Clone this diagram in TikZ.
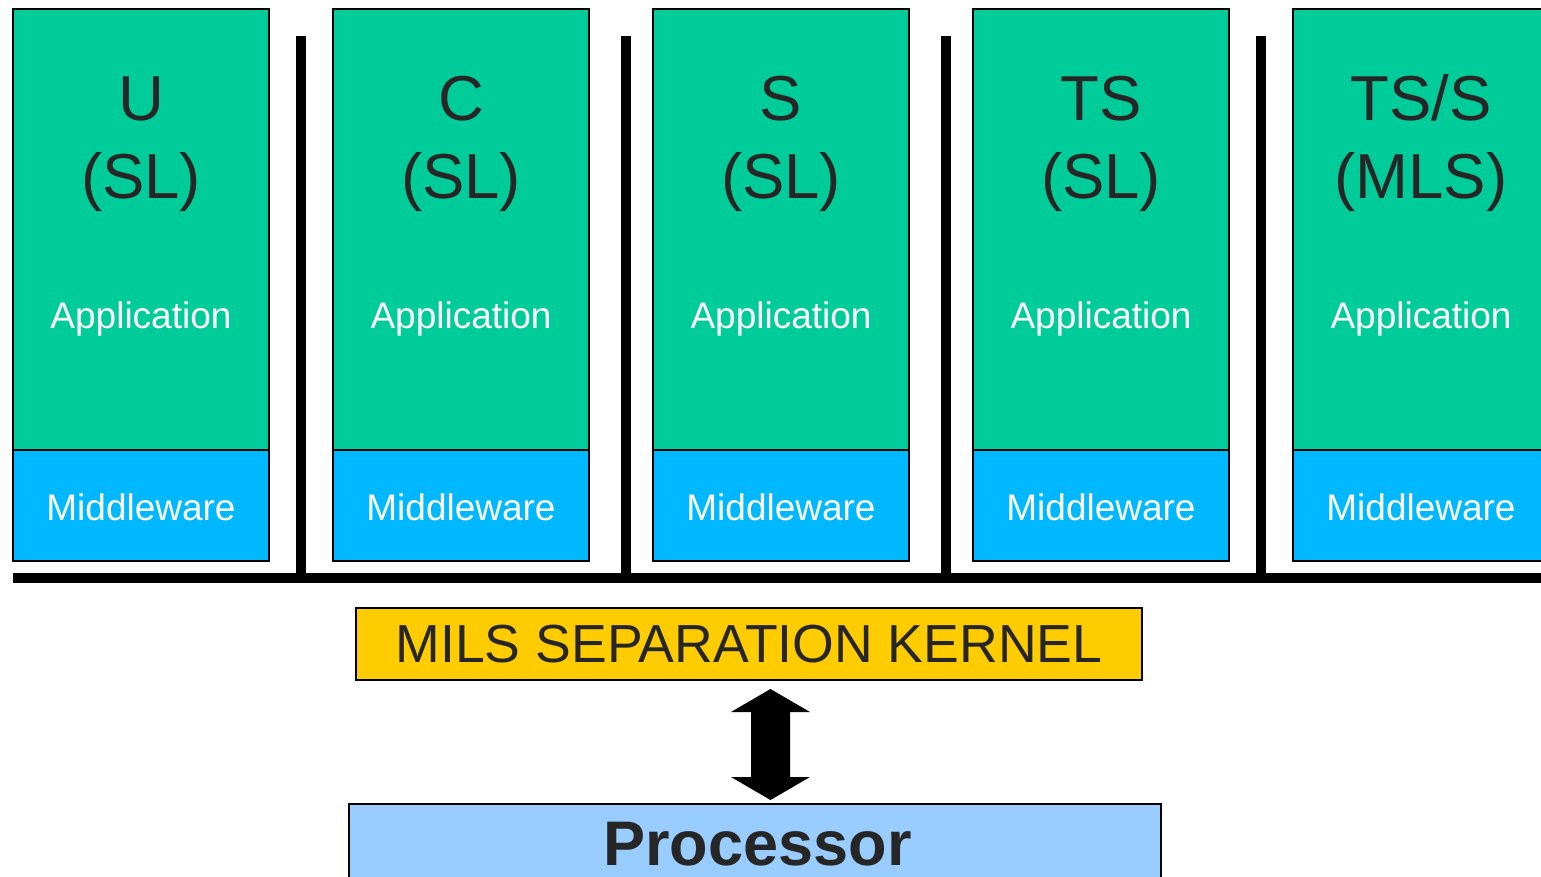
\documentclass[tikz,border=0pt]{standalone}
\usepackage{fontspec}
\setmainfont{Liberation Sans}
\definecolor{appgreen}{HTML}{00CC99}
\definecolor{mwblue}{HTML}{00B8FF}
\definecolor{kernyellow}{HTML}{FFCC00}
\definecolor{procblue}{HTML}{99CCFF}
\definecolor{txtdark}{HTML}{262626}
\begin{document}
\begin{tikzpicture}[x=1pt,y=-1pt,
  appbox/.style={draw=black, line width=2pt, fill=appgreen, minimum width=256pt, minimum height=441pt, inner sep=0pt, outer sep=0pt},
  mwbox/.style={draw=black, line width=2pt, fill=mwblue, minimum width=256pt, minimum height=111pt, inner sep=0pt, outer sep=0pt},
  lvltext/.style={anchor=base, inner sep=0pt, text=txtdark, font=\fontsize{63.5}{63.5}\selectfont},
  apptext/.style={anchor=base, inner sep=0pt, text=white, font=\fontsize{37}{37}\selectfont},
  sepbar/.style={line width=10pt, black},
  kernbox/.style={draw=black, line width=1.5pt, fill=kernyellow, minimum width=786pt, minimum height=72pt, inner sep=0pt, text=txtdark, font=\fontsize{53.6}{53.6}\selectfont},
  procbox/.style={draw=black, line width=1.5pt, fill=procblue, minimum width=812pt, minimum height=100pt, inner sep=0pt},
  proctext/.style={anchor=base, inner sep=0pt, text=txtdark, font=\fontsize{63}{63}\selectfont\bfseries},
]
\useasboundingbox (0,0) rectangle (1541,876);
\clip (0,0) rectangle (1541,876);
\fill[white] (0,0) rectangle (1541,876);

\foreach \x/\i/\lv/\kd in {141/1/U/SL, 461/2/C/SL, 781/3/S/SL, 1101/4/TS/SL, 1421/5/{TS/S}/MLS}{
  \node[appbox] (app\i) at (\x,229.5) {};
  \node[mwbox] (mw\i) at (\x,505.5) {};
  \node[lvltext] (lv\i) at (\x,120) {\lv};
  \node[lvltext] (kd\i) at (\x,198) {(\kd)};
  \node[apptext] (at\i) at (\x,328) {Application};
  \node[apptext] (mt\i) at (\x,520) {Middleware};
}

% separation bars
\draw[sepbar] (13,578) -- (1545,578);
\foreach \x in {301,626,946,1261}{
  \draw[sepbar] (\x,36) -- (\x,578);
}

\node[kernbox] (kern) at (749,644) {MILS SEPARATION KERNEL};
\node[procbox] (proc) at (755,854) {};
\node[proctext] (proclabel) at (757.5,865) {Processor};

% double arrow
\coordinate (atop) at (770.5,689);
\coordinate (abot) at (770.5,800);
\fill[black] (atop) -- ++(39.5,23) -- ++(-20,0) -- ++(0,65) -- ++(20,0) -- (abot)
  -- ++(-39.5,-23) -- ++(20,0) -- ++(0,-65) -- ++(-20,0) -- cycle;
\end{tikzpicture}
\end{document}
